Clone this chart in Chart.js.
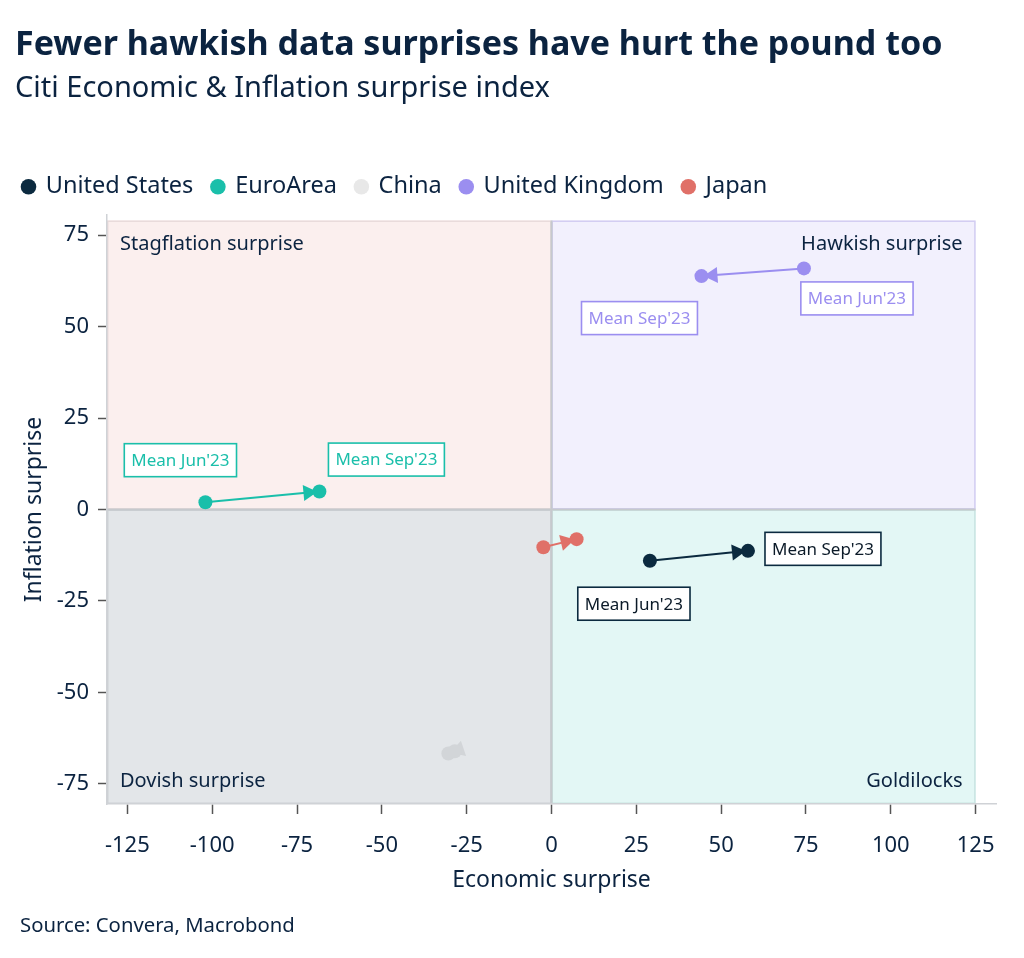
<!DOCTYPE html>
<html><head><meta charset="utf-8">
<script src="https://cdn.jsdelivr.net/npm/chart.js@4"></script>
<style>
html,body{margin:0;padding:0;background:#fff;}
body{width:1024px;height:958px;position:relative;overflow:hidden;font-family:"Noto Sans",sans-serif;color:#0b2340;}
#wrap{position:absolute;left:0;top:0;width:1024px;height:958px;}
#title{position:absolute;left:15px;top:20px;font-size:34px;font-weight:700;line-height:44px;white-space:nowrap;}
#subtitle{position:absolute;left:15px;top:67px;font-size:29px;line-height:38px;white-space:nowrap;}
#source{position:absolute;left:20px;top:909px;font-size:20.3px;line-height:30px;white-space:nowrap;}
</style></head><body>
<div id="wrap"><canvas id="c" width="1024" height="958"></canvas></div>
<div id="title">Fewer hawkish data surprises have hurt the pound too</div>
<div id="subtitle">Citi Economic &amp; Inflation surprise index</div>
<div id="source">Source: Convera, Macrobond</div>
<script>
// ---- data ----
const countries = ['United States', 'EuroArea', 'China', 'United Kingdom', 'Japan'];
const economicJun = [29.0, -102.0, -28.5, 74.4, -2.4];
const inflationJun = [-14.0, 2.0, -66.1, 65.9, -10.3];
const economicSep = [57.9, -68.4, -30.4, 44.2, 7.4];
const inflationSep = [-11.3, 4.9, -66.7, 63.8, -8.1];
const periodLabels = ["Mean Jun'23", "Mean Sep'23"];
const xTicks = [-125, -100, -75, -50, -25, 0, 25, 50, 75, 100, 125];
const yTicks = [-75, -50, -25, 0, 25, 50, 75];
const quadrantNames = ['Stagflation surprise', 'Hawkish surprise', 'Dovish surprise', 'Goldilocks'];

// ---- styles ----
const TEXT = '#0b2340';
const FONT = '"Noto Sans", sans-serif';
const seriesColors = ['#0b2a3f', '#1abfaa', '#d2d5d8', '#9b8ef0', '#e07068'];
const legendColors = ['#0b2a3f', '#1abfaa', '#e8e8e8', '#9b8ef0', '#e07068'];
const labelTextColors = ['#0b1a28', '#1abfaa', null, '#9b8ef0', null];
// pixel offsets of annotation boxes from points [jun, sep]; null = no label
const labelOffsets = [
  [[-16, 43], [75, -2]],
  [[-25, -42], [67, -32]],
  null,
  [[53, 30], [-62, 42]],
  null
];
const X_MIN = -131, X_MAX = 131, Y_MIN = -80.5, Y_MAX = 80.5;
const Q = {xl: -131, xr: 125, yb: -80.5, yt: 79};

const datasets = countries.map((name, i) => ({
  label: name,
  data: [{x: economicJun[i], y: inflationJun[i]}, {x: economicSep[i], y: inflationSep[i]}],
  showLine: true,
  borderColor: seriesColors[i],
  backgroundColor: seriesColors[i],
  borderWidth: 2,
  pointRadius: 7,
  pointHoverRadius: 7,
  pointBorderWidth: 0,
  pointStyle: 'circle'
}));

const legendHeight = {
  id: 'legendHeight',
  beforeLayout(chart) {
    if (chart.legend && !chart.legend._patched) {
      const fit = chart.legend.fit;
      chart.legend.fit = function () { fit.call(this); this.height = 59; };
      chart.legend._patched = true;
    }
  }
};

const quadrants = {
  id: 'quadrants',
  beforeDraw(chart) {
    const {ctx, scales: {x, y}} = chart;
    const X = v => x.getPixelForValue(v), Y = v => y.getPixelForValue(v);
    const rects = [
      {x0: Q.xl, x1: 0, y0: 0, y1: Q.yt, fill: '#fbefee', stroke: '#e9dbdb'},
      {x0: 0, x1: Q.xr, y0: 0, y1: Q.yt, fill: '#f2f0fd', stroke: '#d3cdf2'},
      {x0: Q.xl, x1: 0, y0: Q.yb, y1: 0, fill: '#e3e6e9', stroke: '#cdd1d5'},
      {x0: 0, x1: Q.xr, y0: Q.yb, y1: 0, fill: '#e3f7f5', stroke: '#c9e4e1'}
    ];
    ctx.save();
    rects.forEach(r => {
      const px0 = X(r.x0), px1 = X(r.x1), py0 = Y(r.y1), py1 = Y(r.y0);
      ctx.fillStyle = r.fill;
      ctx.fillRect(px0, py0, px1 - px0, py1 - py0);
      ctx.strokeStyle = r.stroke;
      ctx.lineWidth = 1.5;
      ctx.strokeRect(px0 + 0.75, py0 + 0.75, px1 - px0 - 1.5, py1 - py0 - 1.5);
    });
    ctx.strokeStyle = '#c6c9cd';
    ctx.lineWidth = 2;
    ctx.beginPath();
    ctx.moveTo(X(0), Y(Q.yt)); ctx.lineTo(X(0), Y(Q.yb));
    ctx.moveTo(X(Q.xl), Y(0)); ctx.lineTo(X(Q.xr), Y(0));
    ctx.stroke();
    ctx.fillStyle = TEXT;
    ctx.font = '20px ' + FONT;
    ctx.textBaseline = 'middle';
    const L = X(Q.xl) + 13, R = X(Q.xr) - 13, T = Y(Q.yt) + 24, B = Y(Q.yb) - 23;
    ctx.textAlign = 'left';
    ctx.fillText(quadrantNames[0], L, T);
    ctx.fillText(quadrantNames[2], L, B);
    ctx.textAlign = 'right';
    ctx.fillText(quadrantNames[1], R, T);
    ctx.fillText(quadrantNames[3], R, B);
    ctx.restore();
  }
};

const arrows = {
  id: 'arrows',
  beforeDatasetDraw(chart, args) {
    const pts = args.meta.data;
    if (pts.length < 2) return;
    const a = pts[0], b = pts[1];
    const dx = b.x - a.x, dy = b.y - a.y, len = Math.hypot(dx, dy) || 1;
    const ux = dx / len, uy = dy / len;
    const tipX = b.x - ux * 2, tipY = b.y - uy * 2;
    const bx = tipX - ux * 14, by = tipY - uy * 14;
    const ctx = chart.ctx;
    ctx.save();
    ctx.fillStyle = seriesColors[args.index];
    ctx.beginPath();
    ctx.moveTo(tipX, tipY);
    ctx.lineTo(bx - uy * 8, by + ux * 8);
    ctx.lineTo(bx + uy * 8, by - ux * 8);
    ctx.closePath();
    ctx.fill();
    ctx.restore();
  }
};

const boxes = {
  id: 'boxes',
  afterDatasetsDraw(chart) {
    const ctx = chart.ctx;
    ctx.save();
    ctx.font = '17px ' + FONT;
    ctx.textAlign = 'center';
    ctx.textBaseline = 'middle';
    chart.data.datasets.forEach((ds, i) => {
      const offs = labelOffsets[i];
      if (!offs) return;
      const pts = chart.getDatasetMeta(i).data;
      pts.forEach((p, k) => {
        const cx = p.x + offs[k][0], cy = p.y + offs[k][1];
        const txt = periodLabels[k];
        const w = ctx.measureText(txt).width + 14, h = 33;
        ctx.fillStyle = '#ffffff';
        ctx.fillRect(cx - w / 2, cy - h / 2, w, h);
        ctx.strokeStyle = seriesColors[i];
        ctx.lineWidth = 1.6;
        ctx.strokeRect(cx - w / 2, cy - h / 2, w, h);
        ctx.fillStyle = labelTextColors[i];
        ctx.fillText(txt, cx, cy + 1);
      });
    });
    ctx.restore();
  }
};

new Chart(document.getElementById('c'), {
  type: 'scatter',
  data: {datasets},
  options: {
    responsive: false,
    animation: false,
    devicePixelRatio: 1,
    layout: {padding: {left: 4, right: 28, top: 156, bottom: 54}},
    plugins: {
      tooltip: {enabled: false},
      legend: {
        position: 'top',
        align: 'start',
        labels: {
          usePointStyle: true,
          pointStyle: 'circle',
          boxWidth: 11,
          boxHeight: 11,
          padding: 19,
          color: TEXT,
          font: {family: FONT, size: 23.5},
          generateLabels(chart) {
            const items = Chart.defaults.plugins.legend.labels.generateLabels(chart);
            items.forEach(it => {
              it.fillStyle = legendColors[it.datasetIndex];
              it.strokeStyle = legendColors[it.datasetIndex];
              it.lineWidth = 0;
            });
            return items;
          }
        }
      }
    },
    scales: {
      x: {
        type: 'linear',
        min: X_MIN, max: X_MAX,
        afterBuildTicks(s) { s.ticks = xTicks.map(v => ({value: v})); },
        afterFit(s) { s.height = 100; },
        grid: {drawOnChartArea: false, drawTicks: true, tickLength: 10, tickColor: '#555', tickWidth: 1.5},
        border: {color: '#cfd2d6', width: 1.5},
        ticks: {color: TEXT, font: {family: FONT, size: 22}, padding: 19, autoSkip: false, maxRotation: 0},
        title: {display: true, text: 'Economic surprise', color: TEXT, font: {family: FONT, size: 23}, padding: {top: 4, bottom: 10}}
      },
      y: {
        type: 'linear',
        min: Y_MIN, max: Y_MAX,
        afterBuildTicks(s) { s.ticks = yTicks.map(v => ({value: v})); },
        afterFit(s) { s.width = 103; },
        grid: {drawOnChartArea: false, drawTicks: true, tickLength: 9, tickColor: '#555', tickWidth: 1.5},
        border: {color: '#cfd2d6', width: 1.5},
        ticks: {color: TEXT, font: {family: FONT, size: 22}, padding: 9, autoSkip: false},
        title: {display: true, text: 'Inflation surprise', color: TEXT, font: {family: FONT, size: 23}, padding: {top: 17, bottom: 4}}
      }
    }
  },
  plugins: [legendHeight, quadrants, arrows, boxes]
});
</script>
</body></html>
